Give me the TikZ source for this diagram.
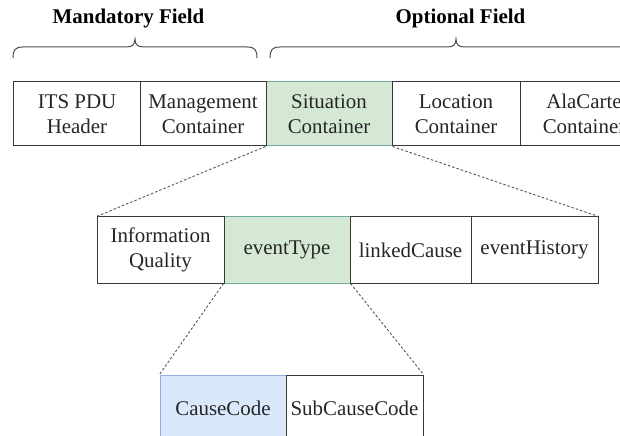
\documentclass[tikz,border=0pt]{standalone}
\usepackage{fontspec}
\setmainfont{LiberationSerif}[Extension=.ttf, UprightFont=*-Regular, BoldFont=*-Bold, ItalicFont=*-Italic, BoldItalicFont=*-BoldItalic]
\definecolor{boxline}{HTML}{383838}
\definecolor{greenfill}{HTML}{D5E8D4}
\definecolor{greenline}{HTML}{6FAE9C}
\definecolor{bluefill}{HTML}{DAE8FC}
\definecolor{blueline}{HTML}{8FB0E0}
\definecolor{dashgray}{HTML}{555555}
\begin{document}
\begin{tikzpicture}[x=1bp,y=-1bp,
  field/.style={draw=boxline, line width=1bp, fill=white, rectangle, inner sep=2bp,
    align=center, font=\rmfamily\fontsize{21}{25}\selectfont, text=black!85},
  greenbox/.style={field, fill=greenfill, draw=greenline},
  bluebox/.style={field, fill=bluefill, draw=blueline},
  zoomline/.style={draw=dashgray, line width=0.9bp, dash pattern=on 2.5bp off 2bp},
  bracepath/.style={draw=boxline!90, line width=1bp},
  heading/.style={font=\rmfamily\fontsize{21}{25}\selectfont\bfseries, anchor=base, inner sep=0pt}]
\useasboundingbox (0,0) rectangle (620,436);
\begin{scope}
\clip (0,0) rectangle (620,436);
% headings
\node[heading] (mand) at (128.5,23.3) {Mandatory Field};
\node[heading] (opt) at (460.5,23.3) {Optional Field};
% braces
\draw[bracepath] (13,58) .. controls (13,50) and (15,47) .. (23,47) -- (126,47)
  .. controls (132,47) and (135,45) .. (135,39)
  .. controls (135,45) and (138,47) .. (144,47) -- (247,47)
  .. controls (255,47) and (257,50) .. (257,58);
\draw[bracepath] (270,58) .. controls (270,50) and (272,47) .. (280,47) -- (447,47)
  .. controls (453,47) and (456,45) .. (456,39)
  .. controls (456,45) and (459,47) .. (465,47) -- (632,47)
  .. controls (640,47) and (642,50) .. (642,58);
% top row
\node[greenbox, minimum width=126bp, minimum height=64bp] (sit) at (329,114) {Situation\\Container};
\node[field, minimum width=126bp, minimum height=64bp] (its) at (77,114) {ITS PDU\\Header};
\node[field, minimum width=126bp, minimum height=64bp] (mgmt) at (203,114) {Management\\Container};
\node[field, minimum width=128bp, minimum height=64bp] (loc) at (456,114) {Location\\Container};
\node[field, minimum width=128bp, minimum height=64bp] (ala) at (584,114) {AlaCarte\\Container};
% second row
\node[greenbox, minimum width=126bp, minimum height=66bp] (et) at (287,250) {eventType};
\node[field, minimum width=127bp, minimum height=66bp] (iq) at (160.5,250) {Information\\Quality};
\node[field, minimum width=121bp, minimum height=66bp] (lc) at (410.5,250) {linkedCause};
\node[field, minimum width=127bp, minimum height=66bp] (eh) at (534.5,250) {eventHistory};
% third row
\node[bluebox, minimum width=126bp, minimum height=66bp] (cc) at (223,408) {CauseCode};
\node[field, minimum width=137bp, minimum height=66bp] (scc) at (354.5,408) {SubCauseCode};
% zoom connectors
\draw[zoomline] (sit.south west) -- (iq.north west);
\draw[zoomline] (sit.south east) -- (eh.north east);
\draw[zoomline] (et.south west) -- (cc.north west);
\draw[zoomline] (et.south east) -- (scc.north east);
\end{scope}
\end{tikzpicture}
\end{document}
